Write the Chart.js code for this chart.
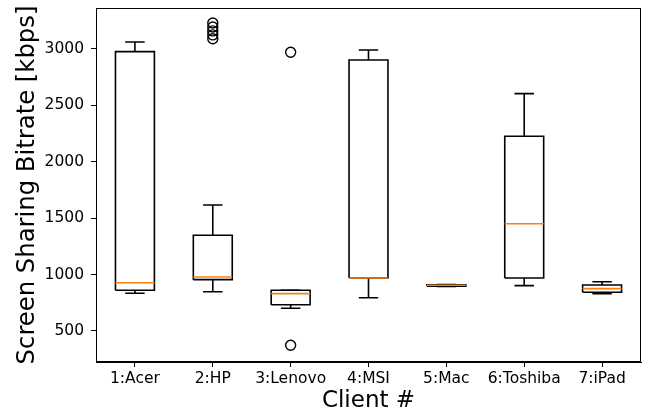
<!DOCTYPE html>
<html>
<head>
<meta charset="utf-8">
<script src="https://cdn.jsdelivr.net/npm/chart.js@4"></script>
<style>
  body { margin: 0; background: #fff; }
  #box { display: block; }
</style>
</head>
<body>
<canvas id="box" width="650" height="419"></canvas>
<script>
"use strict";
// values (kbps)
const clients = ["1:Acer", "2:HP", "3:Lenovo", "4:MSI", "5:Mac", "6:Toshiba", "7:iPad"];
const whiskerLow = [834, 848, 701, 795, 895, 902, 831];
const q1 = [861, 955, 733, 970, 898, 970, 843];
const medians = [928, 979, 831, 970, 905, 1451, 875];
const q3 = [2976, 1348, 861, 2902, 910, 2226, 908];
const whiskerHigh = [3062, 1617, 861, 2991, 912, 2604, 937];
const outliers = [[], [3230, 3195, 3160, 3125, 3090], [2971, 373], [], [], [], []];
const yTicks = [500, 1000, 1500, 2000, 2500, 3000];

const gap = { x: null, y: null };
const boxPts = [], medPts = [], whiskPts = [], outPts = [];
clients.forEach((c, i) => {
    const x = i + 1;
    boxPts.push({ x: x - 0.25, y: q1[i] }, { x: x + 0.25, y: q1[i] }, { x: x + 0.25, y: q3[i] },
        { x: x - 0.25, y: q3[i] }, { x: x - 0.25, y: q1[i] }, gap);
    medPts.push({ x: x - 0.25, y: medians[i] }, { x: x + 0.25, y: medians[i] }, gap);
    whiskPts.push({ x: x, y: q3[i] }, { x: x, y: whiskerHigh[i] }, gap,
        { x: x - 0.125, y: whiskerHigh[i] }, { x: x + 0.125, y: whiskerHigh[i] }, gap,
        { x: x, y: q1[i] }, { x: x, y: whiskerLow[i] }, gap,
        { x: x - 0.125, y: whiskerLow[i] }, { x: x + 0.125, y: whiskerLow[i] }, gap);
    outliers[i].forEach(v => outPts.push({ x: x, y: v }));
});

// top and right spines
const frame = {
    id: "frame",
    afterDraw(chart) {
        const a = chart.chartArea, ctx = chart.ctx;
        ctx.save();
        ctx.strokeStyle = "#000";
        ctx.lineWidth = 1;
        ctx.strokeRect(a.left + 0.5, a.top + 0.5, a.right - a.left - 1, a.bottom - a.top - 1);
        ctx.restore();
    }
};

const line = (data, color, order) => ({
    data, showLine: true, borderColor: color, borderWidth: 1.6,
    pointRadius: 0, spanGaps: false, order
});

const tickFont = { family: "DejaVu Sans", size: 15.5 };

new Chart(document.getElementById("box").getContext("2d"), {
    type: "scatter",
    data: {
        datasets: [
            line(whiskPts, "#000", 3),
            line(boxPts, "#000", 2),
            line(medPts, "#ff7f0e", 1),
            {
                data: outPts, pointRadius: 5, pointStyle: "circle",
                borderColor: "#000", borderWidth: 1.4, backgroundColor: "rgba(0,0,0,0)", order: 0
            }
        ]
    },
    options: {
        responsive: false,
        animation: false,
        devicePixelRatio: 1,
        layout: { padding: { top: 8, right: 9, left: 0, bottom: 0 } },
        plugins: { legend: { display: false }, tooltip: { enabled: false } },
        scales: {
            x: {
                type: "linear", min: 0.5, max: 7.5,
                afterBuildTicks: s => { s.ticks = clients.map((c, i) => ({ value: i + 1 })); },
                afterFit: s => { s.height = 57; s.paddingLeft = 0; s.paddingRight = 0; },
                ticks: { callback: v => clients[v - 1], color: "#000", font: tickFont, padding: 3, maxRotation: 0 },
                grid: { drawOnChartArea: false, tickLength: 5, tickColor: "#000" },
                border: { color: "#000" },
                title: { display: true, text: "Client #", color: "#000", font: { family: "DejaVu Sans", size: 23 }, padding: { top: 0 } }
            },
            y: {
                min: 225, max: 3363,
                afterBuildTicks: s => { s.ticks = yTicks.map(v => ({ value: v })); },
                afterFit: s => { s.width = 96; s.paddingTop = 0; s.paddingBottom = 0; },
                ticks: { callback: v => String(v), color: "#000", font: tickFont, padding: 7 },
                grid: { drawOnChartArea: false, tickLength: 5, tickColor: "#000" },
                border: { color: "#000" },
                title: { display: true, text: "Screen Sharing Bitrate [kbps]", color: "#000", font: { family: "DejaVu Sans", size: 24.3 }, padding: { top: 13 } }
            }
        }
    },
    plugins: [frame]
});
</script>
</body>
</html>
